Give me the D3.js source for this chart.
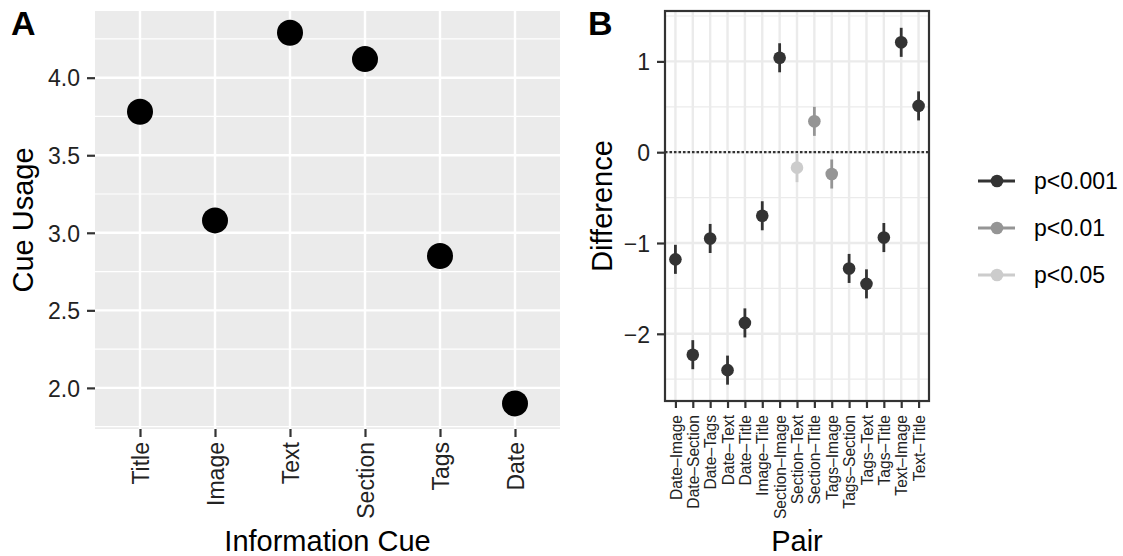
<!DOCTYPE html>
<html>
<head>
<meta charset="utf-8">
<script src="https://cdn.jsdelivr.net/npm/d3@7"></script>
<style>
  body { margin: 0; background: #fff; }
  svg { font-family: "Liberation Sans", Arial, sans-serif; }
</style>
</head>
<body>
<div id="chart"></div>
<script>
// Panel A data
const cues = ["Title", "Image", "Text", "Section", "Tags", "Date"];
const cueUsage = [3.78, 3.08, 4.29, 4.12, 2.85, 1.90];
const usageTicks = [2.0, 2.5, 3.0, 3.5, 4.0];

// Panel B data
const pairs = ["Date\u2013Image", "Date\u2013Section", "Date\u2013Tags", "Date\u2013Text", "Date\u2013Title",
  "Image\u2013Title", "Section\u2013Image", "Section\u2013Text", "Section\u2013Title", "Tags\u2013Image",
  "Tags\u2013Section", "Tags\u2013Text", "Tags\u2013Title", "Text\u2013Image", "Text\u2013Title"];
const diffs = [-1.18, -2.23, -0.95, -2.40, -1.88, -0.70, 1.04, -0.17, 0.34, -0.24, -1.28, -1.45, -0.94, 1.21, 0.51];
const diffErr = [0.16, 0.16, 0.16, 0.16, 0.16, 0.16, 0.16, 0.16, 0.16, 0.16, 0.16, 0.16, 0.16, 0.16, 0.16];
const signif = ["p<0.001", "p<0.001", "p<0.001", "p<0.001", "p<0.001", "p<0.001", "p<0.001", "p<0.05",
  "p<0.01", "p<0.01", "p<0.001", "p<0.001", "p<0.001", "p<0.001", "p<0.001"];
const levels = ["p<0.001", "p<0.01", "p<0.05"];
const diffTicks = [-2, -1, 0, 1];

const width = 1123, height = 556;
const svg = d3.select("#chart").append("svg")
  .attr("width", width).attr("height", height);

const dark = "#333333";
const tickText = "#222222";
const titleSize = "29px", tickSize = "23px";
const minus = s => String(s).replace("-", "\u2212");

// ---------- Panel A ----------
const a = { left: 95, right: 560, top: 11, bottom: 429 };

const xA = d3.scalePoint().domain(cues).range([a.left, a.right]).padding(0.6);
const yA = d3.scaleLinear().domain([1.735, 4.43]).range([a.bottom, a.top]);

const gA = svg.append("g");
gA.append("rect")
  .attr("x", a.left).attr("y", a.top)
  .attr("width", a.right - a.left).attr("height", a.bottom - a.top)
  .attr("fill", "#ebebeb");

const minorA = d3.range(1.75, 4.5, 0.5);
gA.selectAll(".minA").data(minorA).join("line")
  .attr("x1", a.left).attr("x2", a.right)
  .attr("y1", d => yA(d)).attr("y2", d => yA(d))
  .attr("stroke", "#fff").attr("stroke-width", 1.2);
gA.selectAll(".majA").data(usageTicks).join("line")
  .attr("x1", a.left).attr("x2", a.right)
  .attr("y1", d => yA(d)).attr("y2", d => yA(d))
  .attr("stroke", "#fff").attr("stroke-width", 2.4);
gA.selectAll(".vA").data(cues).join("line")
  .attr("x1", d => xA(d)).attr("x2", d => xA(d))
  .attr("y1", a.top).attr("y2", a.bottom)
  .attr("stroke", "#fff").attr("stroke-width", 2.4);

gA.selectAll(".ptA").data(cues).join("circle")
  .attr("cx", d => xA(d))
  .attr("cy", (d, i) => yA(cueUsage[i]))
  .attr("r", 13)
  .attr("fill", "#000");

const axYA = gA.append("g").attr("transform", `translate(${a.left},0)`)
  .call(d3.axisLeft(yA).tickValues(usageTicks).tickFormat(d3.format(".1f")).tickSize(8).tickPadding(7));
const axXA = gA.append("g").attr("transform", `translate(0,${a.bottom})`)
  .call(d3.axisBottom(xA).tickSize(8).tickPadding(5));
[axYA, axXA].forEach(ax => {
  ax.select(".domain").remove();
  ax.selectAll(".tick line").attr("stroke", dark).attr("stroke-width", 2.2);
  ax.selectAll("text").attr("fill", tickText).style("font-size", tickSize);
});
axYA.selectAll("text").attr("dy", "0.36em");
axXA.selectAll("text")
  .attr("transform", "rotate(-90)")
  .attr("text-anchor", "end")
  .attr("x", -13).attr("y", 0).attr("dy", "0.36em");

gA.append("text").attr("x", (a.left + a.right) / 2).attr("y", 551)
  .attr("text-anchor", "middle").style("font-size", titleSize).attr("fill", "#000")
  .text("Information Cue");
gA.append("text").attr("transform", `translate(33,${(a.top + a.bottom) / 2}) rotate(-90)`)
  .attr("text-anchor", "middle").style("font-size", titleSize).attr("fill", "#000")
  .text("Cue Usage");
svg.append("text").attr("x", 11).attr("y", 35)
  .style("font-size", "34px").style("font-weight", "bold").text("A");

// ---------- Panel B ----------
const b = { left: 665, right: 929, top: 11, bottom: 401 };
const xB = d3.scalePoint().domain(pairs).range([b.left, b.right]).padding(0.6);
const yB = d3.scaleLinear().domain([-2.74, 1.555]).range([b.bottom, b.top]);
const colour = d3.scaleOrdinal().domain(levels).range([dark, "#959595", "#cccccc"]);

const gB = svg.append("g");
gB.append("rect")
  .attr("x", b.left).attr("y", b.top)
  .attr("width", b.right - b.left).attr("height", b.bottom - b.top)
  .attr("fill", "#fff");
const minorB = d3.range(-2.5, 1.6, 1);
gB.selectAll(".minB").data(minorB).join("line")
  .attr("x1", b.left).attr("x2", b.right)
  .attr("y1", d => yB(d)).attr("y2", d => yB(d))
  .attr("stroke", "#ebebeb").attr("stroke-width", 1.2);
gB.selectAll(".majB").data(diffTicks).join("line")
  .attr("x1", b.left).attr("x2", b.right)
  .attr("y1", d => yB(d)).attr("y2", d => yB(d))
  .attr("stroke", "#ebebeb").attr("stroke-width", 2.4);
gB.selectAll(".vB").data(pairs).join("line")
  .attr("x1", d => xB(d)).attr("x2", d => xB(d))
  .attr("y1", b.top).attr("y2", b.bottom)
  .attr("stroke", "#ebebeb").attr("stroke-width", 2.4);

gB.append("line")
  .attr("x1", b.left).attr("x2", b.right)
  .attr("y1", yB(0)).attr("y2", yB(0))
  .attr("stroke", dark).attr("stroke-width", 2.2)
  .attr("stroke-dasharray", "2.5,2");

gB.selectAll(".errB").data(pairs).join("line")
  .attr("x1", d => xB(d)).attr("x2", d => xB(d))
  .attr("y1", (d, i) => yB(diffs[i] - diffErr[i]))
  .attr("y2", (d, i) => yB(diffs[i] + diffErr[i]))
  .attr("stroke", (d, i) => colour(signif[i])).attr("stroke-width", 2.8);
gB.selectAll(".ptB").data(pairs).join("circle")
  .attr("cx", d => xB(d))
  .attr("cy", (d, i) => yB(diffs[i]))
  .attr("r", 6.3)
  .attr("fill", (d, i) => colour(signif[i]));

gB.append("rect")
  .attr("x", b.left).attr("y", b.top)
  .attr("width", b.right - b.left).attr("height", b.bottom - b.top)
  .attr("fill", "none").attr("stroke", dark).attr("stroke-width", 2.2);

const axYB = gB.append("g").attr("transform", `translate(${b.left},0)`)
  .call(d3.axisLeft(yB).tickValues(diffTicks).tickFormat(minus).tickSize(8).tickPadding(7));
const axXB = gB.append("g").attr("transform", `translate(0,${b.bottom})`)
  .call(d3.axisBottom(xB).tickSize(7).tickPadding(5));
[axYB, axXB].forEach(ax => {
  ax.select(".domain").remove();
  ax.selectAll(".tick line").attr("stroke", dark).attr("stroke-width", 2.2);
  ax.selectAll("text").attr("fill", tickText);
});
axYB.selectAll("text").style("font-size", tickSize).attr("dy", "0.36em");
axXB.selectAll("text")
  .style("font-size", "15.6px")
  .attr("transform", "rotate(-90)")
  .attr("text-anchor", "end")
  .attr("x", -14).attr("y", 0).attr("dy", "0.36em");

gB.append("text").attr("x", (b.left + b.right) / 2).attr("y", 551)
  .attr("text-anchor", "middle").style("font-size", titleSize).attr("fill", "#000")
  .text("Pair");
gB.append("text").attr("transform", `translate(612,${(b.top + b.bottom) / 2}) rotate(-90)`)
  .attr("text-anchor", "middle").style("font-size", titleSize).attr("fill", "#000")
  .text("Difference");
svg.append("text").attr("x", 588).attr("y", 35)
  .style("font-size", "34px").style("font-weight", "bold").text("B");

// ---------- Legend ----------
const legend = svg.append("g");
const legY = d3.scalePoint().domain(levels).range([181, 275]);
legend.selectAll(".legLine").data(levels).join("line")
  .attr("x1", 978).attr("x2", 1015)
  .attr("y1", d => legY(d)).attr("y2", d => legY(d))
  .attr("stroke", d => colour(d)).attr("stroke-width", 2.8);
legend.selectAll(".legPt").data(levels).join("circle")
  .attr("cx", 997).attr("cy", d => legY(d)).attr("r", 6.3)
  .attr("fill", d => colour(d));
legend.selectAll(".legTxt").data(levels).join("text")
  .attr("x", 1034).attr("y", d => legY(d)).attr("dy", "0.36em")
  .style("font-size", tickSize).attr("fill", "#000")
  .text(d => d);
</script>
</body>
</html>
